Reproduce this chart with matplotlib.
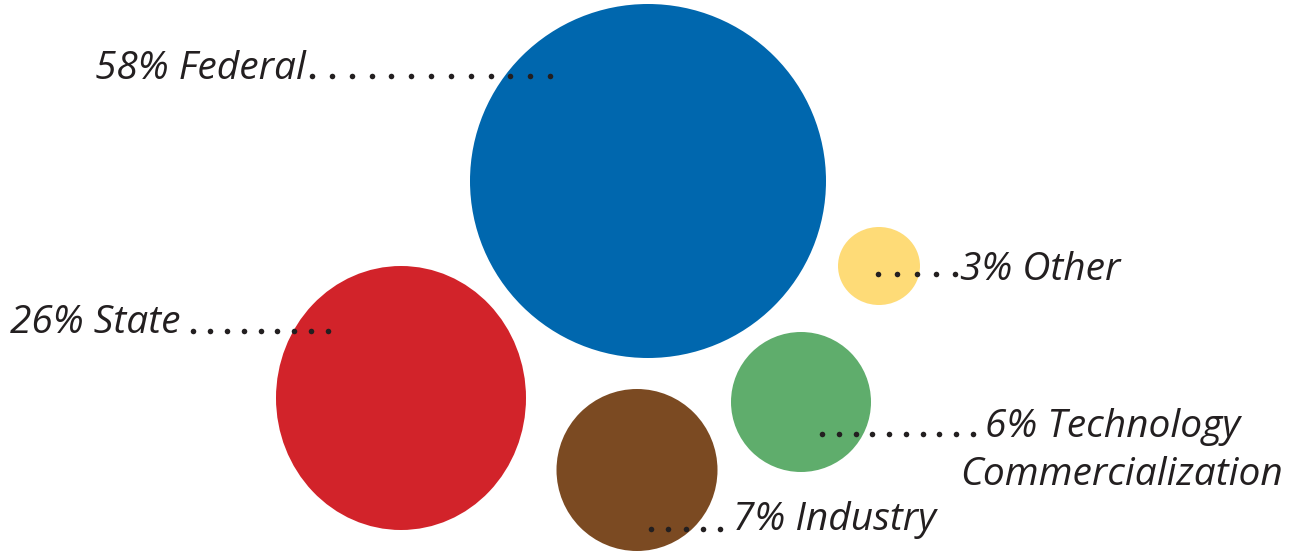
import numpy as np
import matplotlib.pyplot as plt
from matplotlib.patches import Ellipse

# Данные
sources = ['Federal', 'State', 'Industry', 'Technology\nCommercialization', 'Other']
shares = [58, 26, 7, 6, 3]
colors = ['#0067ae', '#d2232a', '#7b4a22', '#5fad6c', '#fedb77']

# Расположение кругов (пиксели): центр, ширина, высота
centers = [(648, 181), (401, 398), (637, 470), (801, 402), (879, 266)]
sizes = [(356, 354), (250, 264), (161, 162), (140, 140), (82, 78)]

# Подписи: позиция текста, пунктир (x0, x1, y, число точек)
label_pos = [(95, 79), (10, 333), (733, 530), (985, 437), (960, 280)]
leaders = [(312, 550, 76, 13), (193, 328, 331, 9), (651, 720, 529, 5),
           (822, 973, 434, 10), (878, 955, 274, 5)]

fig = plt.figure(figsize=(13.01, 5.54), dpi=100)
ax = fig.add_axes([0, 0, 1, 1])
ax.set_xlim(0, 1301)
ax.set_ylim(554, 0)
ax.axis('off')

for c, (w, h), col in zip(centers, sizes, colors):
    ax.add_patch(Ellipse(c, w, h, color=col, lw=0))

text_color = '#231f20'
font = dict(fontsize=28, style='italic', family='Open Sans', color=text_color)
for name, share, (x, y), (x0, x1, yd, n) in zip(sources, shares, label_pos, leaders):
    xs = np.linspace(x0, x1, n)
    ax.plot(xs, [yd] * n, 'o', color=text_color, ms=4, mec='none')
    first, *rest = name.split('\n')
    ax.text(x, y, f'{share}% {first}', ha='left', va='baseline', **font)
    if rest:
        ax.text(1283, y + 48, rest[0], ha='right', va='baseline', **font)

fig.savefig('out.png', dpi=100)
